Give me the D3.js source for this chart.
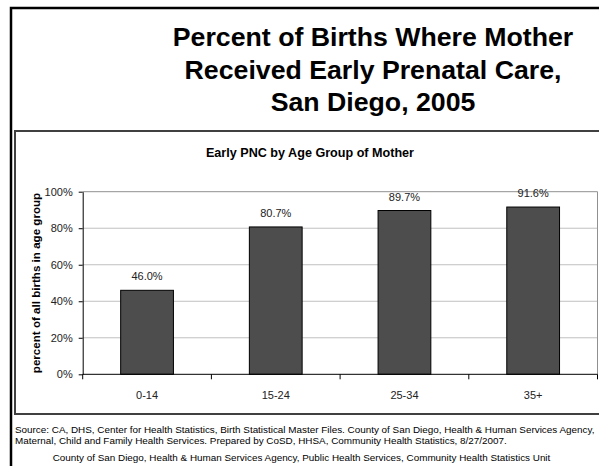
<!DOCTYPE html>
<html>
<head>
<meta charset="utf-8">
<script src="https://cdn.jsdelivr.net/npm/d3@7"></script>
<style>
  body { margin: 0; background: #fff; overflow: hidden; }
  svg { display: block; font-family: Arial, "Liberation Sans", sans-serif; }
</style>
</head>
<body>
<div id="chart"></div>
<script>
// data
const ageGroups = ["0-14", "15-24", "25-34", "35+"];
const earlyPncPct = [46.0, 80.7, 89.7, 91.6];
const yTickValues = [0, 20, 40, 60, 80, 100];
const titleLines = ["Percent of Births Where Mother", "Received Early Prenatal Care,", "San Diego, 2005"];
const chartTitle = "Early PNC by Age Group of Mother";
const yLabel = "percent of all births in age group";
const sourceLines = [
    "Source: CA, DHS, Center for Health Statistics, Birth Statistical Master Files.  County of San Diego, Health & Human Services Agency,",
    "Maternal, Child and Family Health Services. Prepared by CoSD, HHSA, Community Health Statistics, 8/27/2007."
];
const footer = "County of San Diego, Health & Human Services Agency, Public Health Services, Community Health Statistics Unit";

const W = 599, H = 466;
const plot = { left: 82.7, right: 597.5, top: 191.7, bottom: 374.3 };

const svg = d3.select("#chart").append("svg")
    .attr("width", W)
    .attr("height", H);

// outer frame (open to the right and bottom)
svg.append("path")
    .attr("d", `M11,${H} V8 H${W}`)
    .attr("fill", "none")
    .attr("stroke", "#000")
    .attr("stroke-width", 2.5);

// inner chart box
svg.append("path")
    .attr("d", `M${W},131 H15 V414 H${W}`)
    .attr("fill", "none")
    .attr("stroke", "#404040")
    .attr("stroke-width", 2);

// main title
svg.append("g").selectAll("text")
    .data(titleLines).join("text")
    .attr("x", 373)
    .attr("y", (d, i) => 46 + i * 32.5)
    .attr("text-anchor", "middle")
    .attr("font-size", 26.7)
    .attr("font-weight", "bold")
    .text(d => d);

// chart title
svg.append("text")
    .attr("x", 310)
    .attr("y", 157)
    .attr("text-anchor", "middle")
    .attr("font-size", 12.6)
    .attr("font-weight", "bold")
    .text(chartTitle);

// scales
const x = d3.scaleBand()
    .domain(ageGroups)
    .range([plot.left, plot.right])
    .paddingInner(0.59)
    .paddingOuter(0.295);

const y = d3.scaleLinear()
    .domain([0, 100])
    .range([plot.bottom, plot.top]);

// gridlines
svg.append("g").selectAll("line")
    .data(yTickValues.slice(1, -1)).join("line")
    .attr("x1", plot.left).attr("x2", plot.right)
    .attr("y1", d => y(d)).attr("y2", d => y(d))
    .attr("stroke", "#c0c0c0")
    .attr("stroke-width", 1);

// plot area frame
svg.append("path")
    .attr("d", `M${plot.left},${y(100)} H${plot.right} V${plot.bottom}`)
    .attr("fill", "none")
    .attr("stroke", "#909090")
    .attr("stroke-width", 1);

// bars
svg.append("g").selectAll("rect")
    .data(ageGroups).join("rect")
    .attr("x", d => x(d))
    .attr("y", (d, i) => y(earlyPncPct[i]))
    .attr("width", x.bandwidth())
    .attr("height", (d, i) => y(0) - y(earlyPncPct[i]))
    .attr("fill", "#4d4d4d")
    .attr("stroke", "#000")
    .attr("stroke-width", 1);

// value labels
svg.append("g").selectAll("text")
    .data(ageGroups).join("text")
    .attr("x", d => x(d) + x.bandwidth() / 2)
    .attr("y", (d, i) => y(earlyPncPct[i]) - 10)
    .attr("text-anchor", "middle")
    .attr("font-size", 11)
    .attr("fill", "#222")
    .text((d, i) => earlyPncPct[i].toFixed(1) + "%");

// y axis
const yAxis = svg.append("g")
    .attr("transform", `translate(${plot.left},0)`)
    .call(d3.axisLeft(y).tickValues(yTickValues).tickFormat(d => d + "%")
        .tickSizeInner(4).tickSizeOuter(0).tickPadding(6));
yAxis.select(".domain").attr("stroke", "#000");
yAxis.selectAll("text").attr("font-size", 11).attr("fill", "#222").attr("font-family", null);

// x axis: labels at band centres, ticks at band edges
const xAxis = svg.append("g")
    .attr("transform", `translate(0,${plot.bottom})`)
    .call(d3.axisBottom(x).tickSize(0).tickPadding(17));
xAxis.select(".domain").remove();
xAxis.selectAll("text").attr("font-size", 11).attr("fill", "#222").attr("font-family", null);

const edges = ageGroups.map(d => x(d) - x.step() * x.paddingInner() / 2).concat([plot.right]);
xAxis.append("line")
    .attr("x1", plot.left).attr("x2", plot.right)
    .attr("stroke", "#000");
xAxis.selectAll(".edge")
    .data(edges).join("line")
    .attr("class", "edge")
    .attr("x1", d => d).attr("x2", d => d)
    .attr("y1", 0).attr("y2", 5)
    .attr("stroke", "#000");

// y axis label
svg.append("text")
    .attr("transform", `translate(40,${(plot.top + plot.bottom) / 2}) rotate(-90)`)
    .attr("text-anchor", "middle")
    .attr("font-size", 11.6)
    .attr("font-weight", "bold")
    .text(yLabel);

// source notes
svg.append("g").selectAll("text")
    .data(sourceLines).join("text")
    .attr("x", 15)
    .attr("y", (d, i) => 433 + i * 10.5)
    .attr("font-size", 9.9)
    .text(d => d);

svg.append("text")
    .attr("x", 301.5)
    .attr("y", 461)
    .attr("text-anchor", "middle")
    .attr("font-size", 9.9)
    .text(footer);
</script>
</body>
</html>
